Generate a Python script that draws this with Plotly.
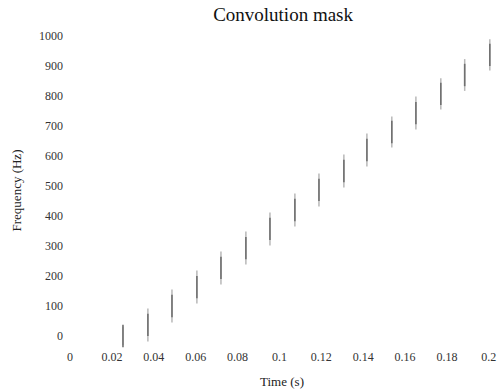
import plotly.graph_objects as go

# Data
times = [0.0253, 0.0372, 0.0487, 0.0606, 0.0721, 0.0840, 0.0955, 0.1074,
         0.1189, 0.1308, 0.1418, 0.1537, 0.1652, 0.1771, 0.1885, 0.2005]
freqs = [0, 37, 100, 163, 227, 293, 357, 420,
         487, 550, 620, 680, 743, 807, 870, 937]
spread = [32, 55, 55, 55, 55, 55, 55, 55, 55, 55, 55, 52, 55, 52, 53, 52]

x_ticks = [0, 0.02, 0.04, 0.06, 0.08, 0.1, 0.12, 0.14, 0.16, 0.18, 0.2]
x_tick_labels = ["0", "0.02", "0.04", "0.06", "0.08", "0.1", "0.12", "0.14", "0.16", "0.18", "0.2"]
y_ticks = [0, 100, 200, 300, 400, 500, 600, 700, 800, 900, 1000]

FONT = "Liberation Serif, Times New Roman, serif"

fig = go.Figure()
# faint outer streak
fig.add_trace(go.Scatter(
    x=times, y=freqs, mode="markers",
    marker=dict(symbol="line-ns", size=1, color="rgba(0,0,0,0)"),
    error_y=dict(type="data", array=spread, symmetric=True, width=0,
                 thickness=1.5, color="#b8b8b8"),
    cliponaxis=False, hoverinfo="skip", showlegend=False,
))
# darker core
fig.add_trace(go.Scatter(
    x=times, y=freqs, mode="markers",
    marker=dict(symbol="line-ns", size=16, line=dict(width=1.6, color="#707070")),
    cliponaxis=False, showlegend=False,
))

fig.update_layout(
    width=501, height=389,
    margin=dict(l=70, r=7, t=36, b=44, autoexpand=False),
    paper_bgcolor="white", plot_bgcolor="white",
    font=dict(family=FONT, size=12, color="#333"),
    title=dict(text="Convolution mask", x=0.565, xanchor="center",
               y=0.962, yanchor="middle",
               font=dict(family=FONT, size=19, color="#111")),
    xaxis=dict(range=[0, 0.2025], tickvals=x_ticks, ticktext=x_tick_labels,
               automargin=False,
               showgrid=False, zeroline=False, showline=False, ticks="",
               ticklabelstandoff=3,
               tickfont=dict(family=FONT, size=12, color="#333"),
               title=dict(text="Time (s)", standoff=14,
                          font=dict(family=FONT, size=13, color="#222"))),
    yaxis=dict(range=[-30, 1000], tickvals=y_ticks, automargin=False,
               showgrid=False, zeroline=False, showline=False, ticks="",
               ticklabelstandoff=6,
               tickfont=dict(family=FONT, size=12, color="#333"),
               title=dict(text="Frequency (Hz)", standoff=14,
                          font=dict(family=FONT, size=13, color="#222"))),
)

fig.write_html("out.html")
